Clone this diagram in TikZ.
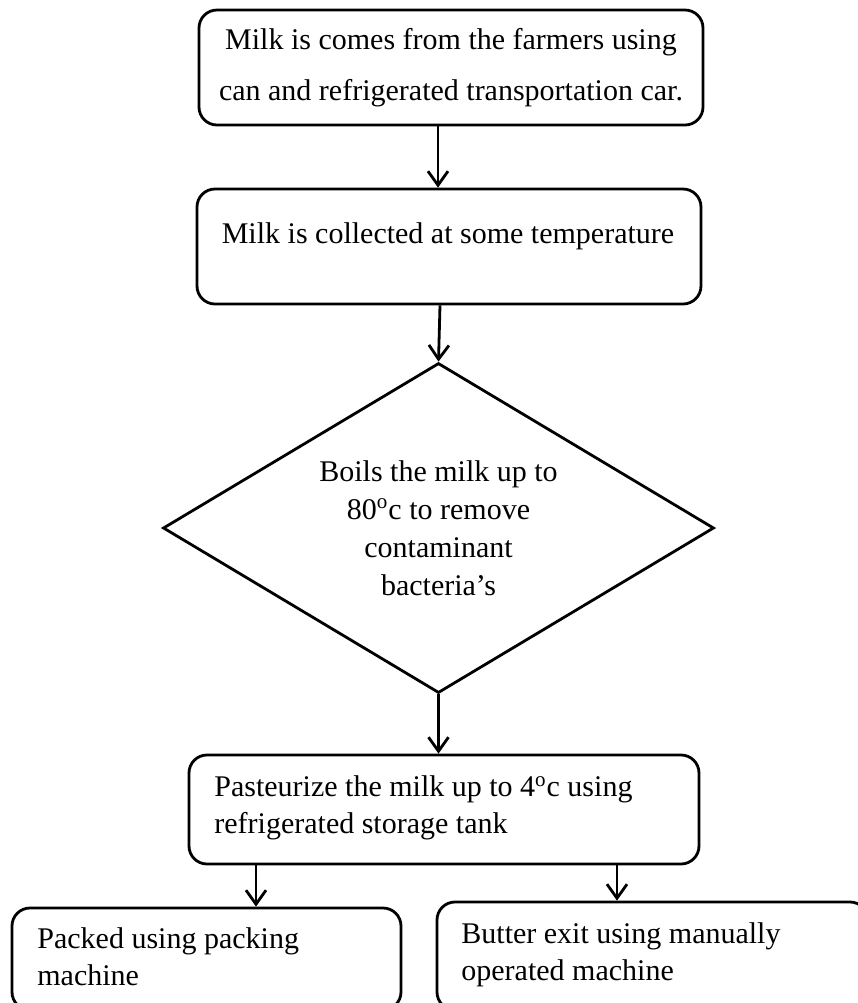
\documentclass[tikz,border=0pt]{standalone}
\usepackage{fontspec}
\setmainfont{Liberation Serif}
\usetikzlibrary{shapes.geometric, arrows.meta}

\begin{document}
\begin{tikzpicture}[x=0.5pt, y=-0.5pt,
	stage/.style={draw, line width=1.4pt, rounded corners=9pt, inner sep=0pt},
	txt/.style={inner sep=0pt, font=\fontsize{15}{18.5}\selectfont, align=left},
	flow/.style={line width=1.4pt, arrows={-Straight Barb[length=7pt, width=10pt]}}]
	\useasboundingbox (0,0) rectangle (858,1003);
	% boxes of the chain
	\node [stage, minimum width=252pt, minimum height=57.5pt, align=center, font=\fontsize{15}{25.5}\selectfont] (comes) at (451,67.5) {Milk is comes from the farmers using\\can and refrigerated transportation car.};
	\node [stage, minimum width=252pt, minimum height=57.5pt] (collect) at (449,246.5) {};
	\node [txt] (collect-txt) at (448,236) {Milk is collected at some temperature};
	\node [diamond, aspect=1.67, draw, line width=1.4pt, minimum width=275.5pt, minimum height=165pt, inner sep=0pt, align=center, font=\fontsize{15}{19}\selectfont] (boil) at (438.5,528) {Boils the milk up to\\80\textsuperscript{o}c to remove\\contaminant\\bacteria’s};
	\node [stage, minimum width=255pt, minimum height=54.5pt] (pasteur) at (444,809.5) {};
	\node [txt, anchor=west] (pasteur-txt) at (214,808) {Pasteurize the milk up to 4\textsuperscript{o}c using\\refrigerated storage tank};
	\node [stage, minimum width=194.5pt, minimum height=51pt] (packed) at (206.5,959) {};
	\node [txt, anchor=west] (packed-txt) at (37,957) {Packed using packing\\machine};
	\node [stage, minimum width=215.5pt, minimum height=54pt] (butter) at (652.5,956) {};
	\node [txt, anchor=west] (butter-txt) at (461,954.5) {Butter exit using manually\\operated machine};
	% arrows
	\draw [flow] ([xshift=-6.5pt]comes.south) -- ([xshift=-6.5pt]comes.south |- collect.north);
	\draw [flow] ([xshift=-4.5pt]collect.south) -- (boil.north);
	\draw [flow] (boil.south) -- (boil.south |- pasteur.north);
	\draw [flow] ([xshift=-94pt]pasteur.south) -- ([xshift=-94pt]pasteur.south |- packed.north);
	\draw [flow] ([xshift=86.5pt]pasteur.south) -- ([xshift=86.5pt]pasteur.south |- butter.north);
\end{tikzpicture}
\end{document}
